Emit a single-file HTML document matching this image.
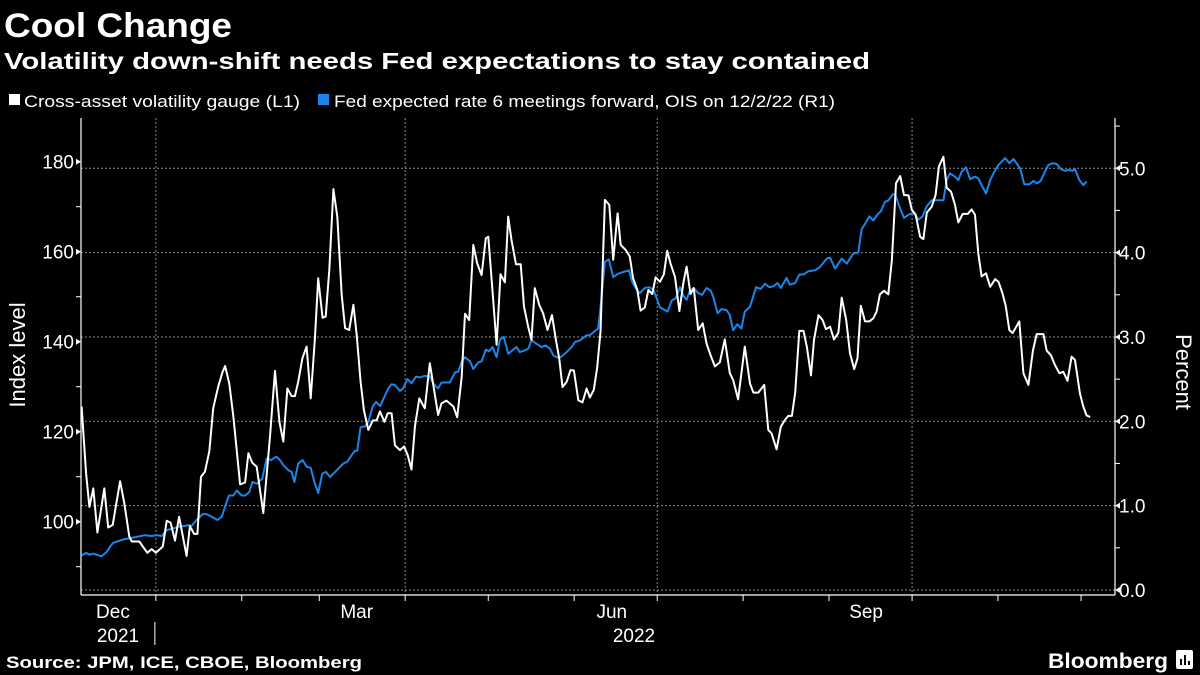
<!DOCTYPE html>
<html><head><meta charset="utf-8"><style>
html,body{margin:0;padding:0;background:#000;}
svg{display:block;font-family:"Liberation Sans",sans-serif;}
</style></head><body>
<svg id="chart" width="1200" height="675" viewBox="0 0 1200 675">
<rect width="1200" height="675" fill="#000"/>
<text x="4" y="37" fill="#fff" font-size="34" font-weight="bold" textLength="228" lengthAdjust="spacingAndGlyphs">Cool Change</text>
<text x="4" y="69" fill="#fff" font-size="23" font-weight="bold" textLength="866" lengthAdjust="spacingAndGlyphs">Volatility down-shift needs Fed expectations to stay contained</text>
<g>
<g><rect x="9" y="94" width="11" height="11" fill="#fff"/><text x="24" y="107" fill="#fff" font-size="17" textLength="276" lengthAdjust="spacingAndGlyphs">Cross-asset volatility gauge (L1)</text></g>
<g><rect x="318" y="94" width="11" height="11" fill="#1a86ea"/><text x="334" y="107" fill="#fff" font-size="17" textLength="501" lengthAdjust="spacingAndGlyphs">Fed expected rate 6 meetings forward, OIS on 12/2/22 (R1)</text></g>
</g>
<g id="grid"></g>
<g id="axes"></g>
<g id="series"></g>
<text transform="translate(25,355) rotate(-90)" text-anchor="middle" fill="#fff" font-size="22">Index level</text>
<text transform="translate(1176,372) rotate(90)" text-anchor="middle" fill="#fff" font-size="22">Percent</text>
<text x="6" y="668" fill="#fff" font-size="17" font-weight="bold" textLength="356" lengthAdjust="spacingAndGlyphs">Source: JPM, ICE, CBOE, Bloomberg</text>
<text x="1048" y="668" fill="#fff" font-size="21" font-weight="bold" textLength="120" lengthAdjust="spacingAndGlyphs">Bloomberg</text>
<g><rect x="1176" y="650" width="17" height="19" rx="2" fill="#fff"/><rect x="1180" y="659" width="2" height="6" fill="#000"/><rect x="1184" y="655" width="2" height="10" fill="#000"/><rect x="1188" y="661" width="2" height="4" fill="#000"/></g>
</svg>
<script>
const volDays=[4.2,5.8,7.0,8.4,9.9,12.4,13.8,15.4,18.1,19.6,21.4,22.3,25.0,27.9,29.5,31.0,33.5,34.9,36.3,37.9,39.4,42.1,43.3,44.8,46.0,47.3,48.7,50.3,51.7,53.5,55.1,56.0,57.5,59.0,61.4,63.2,64.4,65.8,67.4,69.8,72.2,74.0,75.6,77.0,78.5,80.0,81.2,82.4,83.9,85.4,86.9,88.4,89.6,91.2,92.3,93.6,95.1,96.5,98.1,99.3,100.8,102.3,103.5,104.9,106.1,107.7,109.3,110.7,111.9,113.5,114.7,116.1,117.3,119.1,120.6,121.9,123.3,124.5,126.1,128.1,129.9,131.1,132.9,134.1,135.9,138.4,139.8,141.4,142.6,144.1,145.6,147.0,148.6,150.1,151.0,152.6,154.0,155.4,157.0,158.2,159.4,161.0,162.7,163.9,165.4,166.6,167.8,169.4,170.8,172.4,174.0,175.4,176.6,177.8,179.3,180.7,181.9,183.5,185.0,186.5,187.7,189.1,190.3,191.5,193.1,194.7,196.1,197.7,198.8,200.6,202.1,203.3,204.8,206.0,207.5,208.8,210.2,211.4,213.0,214.4,215.6,216.8,218.4,220.0,221.4,222.6,224.0,225.2,226.8,228.4,229.8,231.3,232.8,234.6,236.4,238.2,239.4,241.2,243.6,245.5,246.7,248.5,250.6,252.1,253.3,255.1,256.6,258.1,259.3,260.6,261.8,263.3,264.8,266.0,267.5,268.6,270.2,271.7,272.9,274.4,275.8,277.4,278.6,280.2,281.6,283.1,284.3,285.5,287.0,288.6,290.0,291.2,292.4,293.9,295.4,296.7,298.2,299.7,301.1,302.7,303.9,305.3,306.9,308.1,309.3,311.1,312.5,313.7,315.3,316.5,318.1,319.5,320.7,322.3,324.1,325.5,326.7,327.9,329.1,330.7,332.2,334.0,335.2,336.6,337.8,339.1,340.3,342.7,344.2,346.0,347.6,349.0,351.4,352.6,354.1,355.6,357.2,358.6,360.1,361.6,362.8,364.6,365.8,367.0,368.3];
const volValues=[125.6,110.7,103.3,107.4,97.6,107.4,98.7,99.3,109.0,104.1,96.7,95.6,95.6,93.1,93.9,93.1,94.5,100.2,99.8,95.8,101.1,92.4,99.0,97.3,97.3,110.0,111.1,115.6,125.2,130.0,133.3,134.6,130.7,123.3,108.3,108.7,115.2,113.1,112.2,101.9,118.9,133.5,122.2,117.8,129.6,127.9,127.9,131.1,136.3,138.9,127.4,140.7,154.1,145.3,145.6,155.9,173.9,167.8,150.4,143.0,142.6,148.2,141.5,131.1,124.8,120.4,122.5,122.5,124.5,122.2,124.1,124.1,117.0,115.9,116.7,114.8,111.6,121.1,127.4,125.2,135.2,130.7,123.7,126.3,126.9,125.6,123.2,132.2,146.2,144.8,161.5,157.4,154.8,163.0,163.3,150.7,139.3,155.0,153.2,167.8,162.6,157.2,157.2,147.8,143.3,140.4,151.9,148.2,146.3,142.6,145.9,140.4,136.3,129.9,131.1,133.7,133.6,127.0,126.5,129.6,127.6,129.3,134.1,142.2,171.5,170.4,158.2,168.5,161.5,160.4,158.9,154.1,151.5,146.9,147.6,151.5,150.6,154.3,153.3,155.0,160.2,157.4,154.4,146.8,153.0,156.7,150.6,151.9,142.6,144.1,139.6,136.9,134.5,135.4,140.5,133.0,131.5,127.2,138.9,130.7,128.7,128.7,130.4,120.4,119.6,116.1,121.1,122.6,123.5,123.5,128.7,142.4,142.4,138.9,132.5,140.4,145.9,144.8,142.8,143.3,140.5,142.0,149.8,144.8,137.4,133.9,136.3,148.0,144.5,144.5,145.2,146.7,150.5,151.3,150.5,158.2,175.2,176.8,172.6,172.5,169.3,168.2,163.3,162.8,168.7,170.0,172.6,178.9,181.1,174.2,173.3,170.4,166.5,168.4,168.4,169.4,168.2,159.6,154.5,155.2,152.2,153.9,153.3,150.8,148.0,142.6,141.9,144.5,133.0,130.4,138.0,141.7,141.7,138.0,137.0,134.8,133.0,133.3,131.3,136.7,135.9,128.5,125.6,123.6,123.3];
const fedDays=[4.2,5.8,7.0,8.4,11.4,13.2,14.4,15.6,17.4,19.3,21.1,24.1,27.1,29.5,31.3,33.1,34.9,37.3,39.1,41.5,42.7,43.9,45.7,47.9,49.3,51.1,53.3,54.8,56.0,57.4,59.0,60.2,62.0,63.2,64.7,65.9,67.4,69.4,71.0,72.6,74.4,75.6,77.0,78.8,80.0,81.0,82.4,84.0,85.4,86.9,88.4,89.6,91.1,92.4,93.9,95.7,97.5,98.7,100.1,101.7,102.9,103.7,104.9,106.5,107.7,109.3,110.5,111.9,113.5,114.9,116.1,117.3,119.1,120.3,121.8,123.3,124.9,126.4,128.1,129.9,131.1,132.9,134.1,137.1,139.0,140.2,141.4,142.6,144.4,145.6,147.4,148.6,150.1,151.3,152.6,154.0,155.2,156.6,158.2,160.0,161.2,162.4,164.2,165.4,166.6,168.4,170.2,171.7,173.3,174.5,176.3,177.5,179.3,181.1,182.3,184.1,186.5,187.7,189.5,190.7,191.9,193.1,194.5,196.1,197.9,199.7,201.8,203.0,204.5,205.7,207.5,209.1,210.6,212.0,213.0,215.7,217.2,218.7,220.2,221.4,222.6,223.8,225.2,226.8,228.2,229.8,231.3,232.2,233.8,235.2,237.0,238.2,239.4,240.9,242.4,243.6,245.5,247.7,249.4,250.9,252.5,253.9,255.4,256.6,258.7,259.9,261.8,263.3,264.8,266.6,269.0,270.8,273.2,274.4,276.2,278.6,280.4,282.8,284.6,285.8,287.0,288.6,290.0,291.5,292.7,294.2,295.5,297.0,297.9,299.4,301.1,302.7,304.5,306.3,307.8,309.3,311.1,313.5,315.3,316.5,317.7,319.5,320.7,321.9,323.5,324.9,326.7,327.9,329.1,330.7,332.2,333.4,335.2,337.6,339.1,340.6,343.0,344.5,346.4,347.8,349.0,350.4,352.0,353.2,354.8,356.2,357.7,359.2,360.4,362.0,362.8,364.4,365.8,367.0];
const fedValues=[0.41,0.44,0.42,0.43,0.40,0.45,0.51,0.56,0.58,0.60,0.61,0.63,0.65,0.64,0.65,0.64,0.71,0.73,0.75,0.76,0.77,0.76,0.83,0.90,0.90,0.87,0.83,0.87,0.99,1.12,1.12,1.18,1.12,1.12,1.16,1.28,1.26,1.32,1.56,1.54,1.58,1.55,1.48,1.42,1.40,1.28,1.50,1.54,1.46,1.45,1.26,1.15,1.38,1.40,1.34,1.40,1.46,1.50,1.52,1.60,1.65,1.65,1.93,1.94,1.99,2.18,2.23,2.18,2.29,2.39,2.44,2.43,2.36,2.39,2.50,2.45,2.53,2.52,2.54,2.53,2.45,2.39,2.46,2.46,2.58,2.59,2.71,2.76,2.71,2.62,2.70,2.71,2.85,2.83,2.88,2.76,2.97,3.00,2.80,2.85,2.88,2.82,2.84,2.86,2.96,2.92,2.88,2.90,2.86,2.78,2.75,2.77,2.82,2.88,2.94,2.96,3.02,3.02,3.07,3.10,3.48,3.89,3.92,3.71,3.75,3.77,3.79,3.65,3.56,3.52,3.58,3.59,3.56,3.44,3.35,3.30,3.43,3.46,3.59,3.49,3.44,3.55,3.58,3.52,3.50,3.58,3.55,3.48,3.28,3.33,3.32,3.26,3.08,3.15,3.10,3.30,3.36,3.59,3.57,3.63,3.59,3.60,3.64,3.58,3.70,3.62,3.64,3.74,3.74,3.78,3.79,3.83,3.93,3.94,3.81,3.93,3.87,3.99,4.00,4.28,4.34,4.43,4.38,4.45,4.49,4.60,4.62,4.69,4.69,4.55,4.41,4.45,4.47,4.39,4.43,4.55,4.62,4.62,4.62,4.86,4.94,4.90,4.86,4.96,5.01,4.87,4.90,4.88,4.80,4.70,4.86,4.94,5.04,5.12,5.06,5.11,5.00,4.81,4.81,4.85,4.82,4.85,4.96,5.04,5.06,5.05,4.99,4.97,4.98,4.97,4.99,4.86,4.80,4.84];
const leftTicks=[100,120,140,160,180];
const leftMinor=[90,110,130,150,170];
const rightTicks=[0,1,2,3,4,5];
const rightLabels=["0.0","1.0","2.0","3.0","4.0","5.0"];
const rightMinor=[0.5,1.5,2.5,3.5,4.5,5.5];
const monthDays=[31,62,90,121,151,182,212,243,274,304,335,365];
const gridDays=[31,121,212,304];
const monthLabels=["Dec","Mar","Jun","Sep"];
const monthLabelDays=[15.5,103.5,195.6,287.4];

const NS="http://www.w3.org/2000/svg";
const X0=81,X1=1115,Y1=595,YT=118;
function xs(d){return 70+d*2.77;}
function yl(v){return 161.7+(180-v)*4.5;}
function yr(v){return 590+(0-v)*84.35;}
function mk(tag,attrs,parent){const e=document.createElementNS(NS,tag);for(const k in attrs)e.setAttribute(k,attrs[k]);parent.appendChild(e);return e;}
const grid=document.getElementById('grid'),axes=document.getElementById('axes'),series=document.getElementById('series');

rightTicks.forEach((v,i)=>{
  const g=mk('line',{x1:X0,x2:X1,y1:yr(v),y2:yr(v),stroke:'#8a8a8a','stroke-width':1,'stroke-dasharray':'2,2'},grid);
  
  
  const t=mk('path',{d:`M${X1} ${yr(v)} l5 -3 v6 z`,fill:'#fff'},axes);
  
  
  const l=mk('text',{x:1119,y:yr(v)+7,fill:'#fff','font-size':19},axes);
  l.textContent=rightLabels[i];
  
  
});
rightMinor.forEach(v=>{
  const t=mk('line',{x1:X1,x2:X1+5,y1:yr(v),y2:yr(v),stroke:'#fff'},axes);
  
  
});
gridDays.forEach(d=>{
  const g=mk('line',{x1:xs(d),x2:xs(d),y1:YT,y2:Y1,stroke:'#8a8a8a','stroke-width':1,'stroke-dasharray':'2,2'},grid);
  
  
});
leftTicks.forEach(v=>{
  const t=mk('path',{d:`M${X0} ${yl(v)} l-5 -3 v6 z`,fill:'#fff'},axes);
  
  
  const l=mk('text',{x:74,y:yl(v)+7,fill:'#fff','font-size':19,'text-anchor':'end'},axes);
  l.textContent=String(v);
  
  
});
leftMinor.forEach(v=>{
  const t=mk('line',{x1:X0-5,x2:X0,y1:yl(v),y2:yl(v),stroke:'#fff'},axes);
  
  
});
const la=mk('line',{x1:X0,x2:X0,y1:YT,y2:Y1,stroke:'#fff','stroke-width':1.2},axes);


const ra=mk('line',{x1:X1,x2:X1,y1:YT,y2:Y1,stroke:'#fff','stroke-width':1.2},axes);


const ba=mk('line',{x1:X0,x2:X1,y1:Y1,y2:Y1,stroke:'#fff','stroke-width':1.2},axes);


monthDays.forEach(d=>{
  if(xs(d)<X0||xs(d)>X1) return;
  const t=mk('line',{x1:xs(d),x2:xs(d),y1:Y1,y2:Y1+6,stroke:'#fff'},axes);
  
  
});
monthLabels.forEach((m,i)=>{
  const l=mk('text',{x:xs(monthLabelDays[i]),y:618,fill:'#fff','font-size':19,'text-anchor':'middle'},axes);
  l.textContent=m;
  
  
});
const y1=mk('text',{x:118,y:642,fill:'#fff','font-size':19,'text-anchor':'middle'},axes);
y1.textContent='2021';


const y2=mk('text',{x:634,y:642,fill:'#fff','font-size':19,'text-anchor':'middle'},axes);
y2.textContent='2022';


const ys=mk('line',{x1:xs(31)-1,x2:xs(31)-1,y1:622,y2:645,stroke:'#fff'},axes);



const fp=mk('polyline',{points:fedDays.map((d,i)=>xs(d).toFixed(1)+','+yr(fedValues[i]).toFixed(1)).join(' '),fill:'none',stroke:'#1a86ea','stroke-width':2,'stroke-linejoin':'round'},series);


const vp=mk('polyline',{points:volDays.map((d,i)=>xs(d).toFixed(1)+','+yl(volValues[i]).toFixed(1)).join(' '),fill:'none',stroke:'#fff','stroke-width':2,'stroke-linejoin':'round'},series);


</script>
</body></html>
